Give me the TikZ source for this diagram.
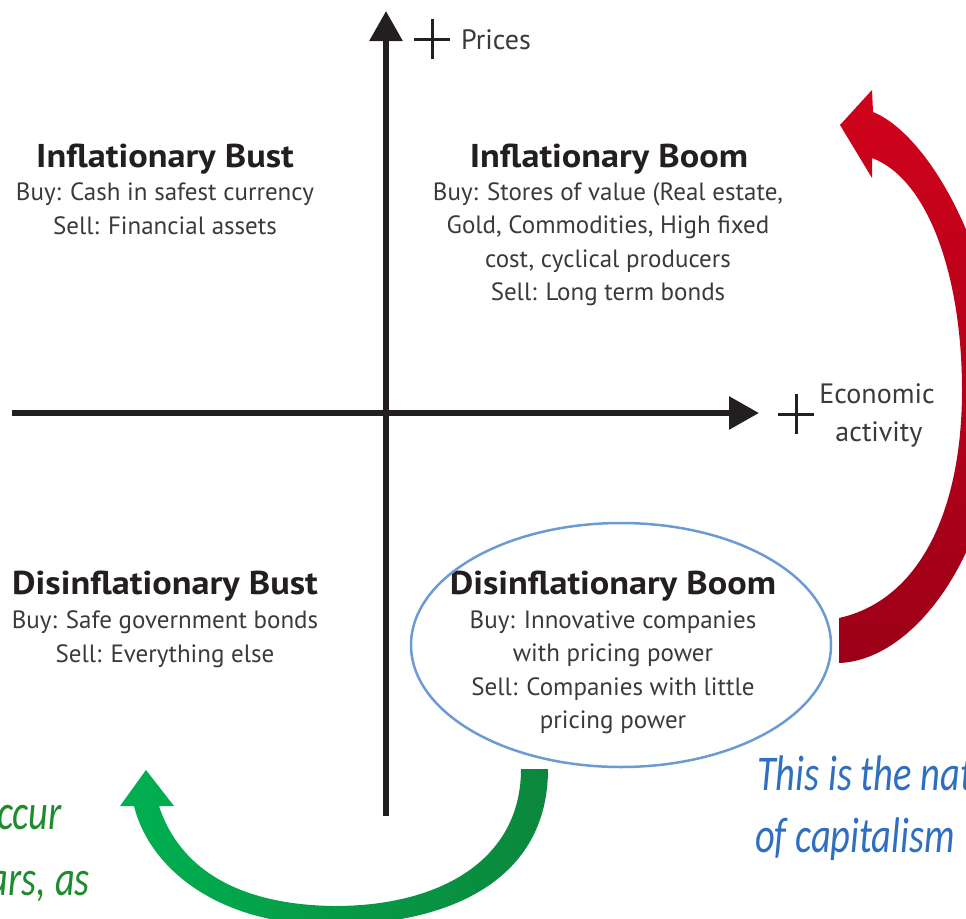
\documentclass[tikz,border=0pt]{standalone}
\usepackage{fontspec}
\setmainfont{PT Sans}
\newfontfamily\titlefont[FakeStretch=1.1]{PT Sans}
\newfontfamily\remarkfont[FakeStretch=0.77]{Carlito}
\usetikzlibrary{arrows.meta,shapes.geometric}

\definecolor{ink}{HTML}{231F20}
\definecolor{bodyink}{HTML}{3A3A3A}
\definecolor{ovalblue}{HTML}{6B9BD2}
\definecolor{noteblue}{HTML}{2F6FBF}
\definecolor{notegreen}{HTML}{1E8C2E}
\definecolor{redlight}{HTML}{D0021B}
\definecolor{reddark}{HTML}{9C0018}
\definecolor{greenlight}{HTML}{00B050}
\definecolor{greendark}{HTML}{0B873C}

\begin{document}
\begin{tikzpicture}[x=1pt,y=-1pt,
  axis/.style={line width=6pt, draw=ink, -{Triangle[length=30pt,width=32pt]}},
  plus/.style={line width=3pt, draw=ink},
  title/.style={font=\titlefont\bfseries\fontsize{33}{36}\selectfont, text=ink, inner sep=0pt, anchor=base},
  body/.style={font=\fontsize{25}{33.4}\selectfont, text=bodyink, align=center, inner sep=0pt, anchor=base},
  axislabel/.style={font=\fontsize{28}{33}\selectfont, text=bodyink, inner sep=0pt, anchor=base},
  note/.style={font=\remarkfont\itshape\fontsize{50}{62}\selectfont, inner sep=0pt},
]
\useasboundingbox (0,0) rectangle (966,918);
\clip (0,0) rectangle (966,918);

% axes
\coordinate (xstart) at (12,413);
\coordinate (xend) at (759,413);
\coordinate (ystart) at (386,816);
\coordinate (yend) at (386,11);
\draw[axis] (xstart) -- (xend);
\draw[axis] (ystart) -- (yend);

% plus signs at the positive ends
\coordinate (pplus) at (432,39);
\coordinate (eplus) at (796,414);
\draw[plus] ([xshift=-18pt]pplus) -- ([xshift=18pt]pplus)
            ([yshift=-20pt]pplus) -- ([yshift=20pt]pplus);
\draw[plus] ([xshift=-18pt]eplus) -- ([xshift=18pt]eplus)
            ([yshift=-20pt]eplus) -- ([yshift=20pt]eplus);
\node[axislabel, anchor=base west] (prices) at (461,49) {Prices};
\node[axislabel] (econ) at (877,403) {Economic};
\node[axislabel] (activity) at (879,441) {activity};

% quadrant captions (a multi-line node sits on the baseline of its last line)
\node[title] (ibust) at (165,167) {Inflationary Bust};
\node[body] (ibusttxt) at (165,234) {Buy: Cash in safest currency\\Sell: Financial assets};

\node[title] (iboom) at (609,167) {Inflationary Boom};
\node[body] (iboomtxt) at (608,300.5) {Buy: Stores of value (Real estate,\\Gold, Commodities, High fixed\\cost, cyclical producers\\Sell: Long term bonds};

\node[title] (dbust) at (165,594) {Disinflationary Bust};
\node[body] (dbusttxt) at (165,662) {Buy: Safe government bonds\\Sell: Everything else};

\node[title] (dboom) at (613,594) {Disinflationary Boom};
\node[body] (dboomtxt) at (613,728.5) {Buy: Innovative companies\\with pricing power\\Sell: Companies with little\\pricing power};

% highlight around the disinflationary boom
\node[draw=ovalblue, line width=2.5pt, ellipse, minimum width=420pt, minimum height=244pt, inner sep=0pt] (oval) at (621,645) {};

% red cycle arrow: disinflationary boom back to inflationary boom
\shade[top color=redlight, bottom color=reddark]
  (839,618) -- (839,663)
  .. controls (920,660) and (1000,540) .. (1000,395)
  .. controls (1000,260) and (930,135) .. (873,112)
  -- (872,90) -- (840,125) -- (872,178) -- (872,158)
  .. controls (930,180) and (962,280) .. (962,390)
  .. controls (962,510) and (920,600) .. (839,618) -- cycle;

% green cycle arrow: disinflationary boom to disinflationary bust
\shade[left color=greenlight, right color=greendark]
  (521,769) -- (548,769)
  .. controls (548,880) and (450,925) .. (330,925)
  .. controls (220,925) and (150,870) .. (134,806)
  -- (120,806) -- (146,770) -- (174,806) -- (159,806)
  .. controls (180,870) and (240,905) .. (335,906)
  .. controls (440,906) and (521,860) .. (521,769) -- cycle;

% side remarks
\node[note, text=notegreen, anchor=base east] (gnote1) at (62,829) {ccur};
\node[note, text=notegreen, anchor=base east] (gnote2) at (90,895) {ars, as};
\node[note, text=noteblue, anchor=base west] (bnote1) at (757,790) {This is the nat};
\node[note, text=noteblue, anchor=base west] (bnote2) at (755,852) {of capitalism};
\end{tikzpicture}
\end{document}
